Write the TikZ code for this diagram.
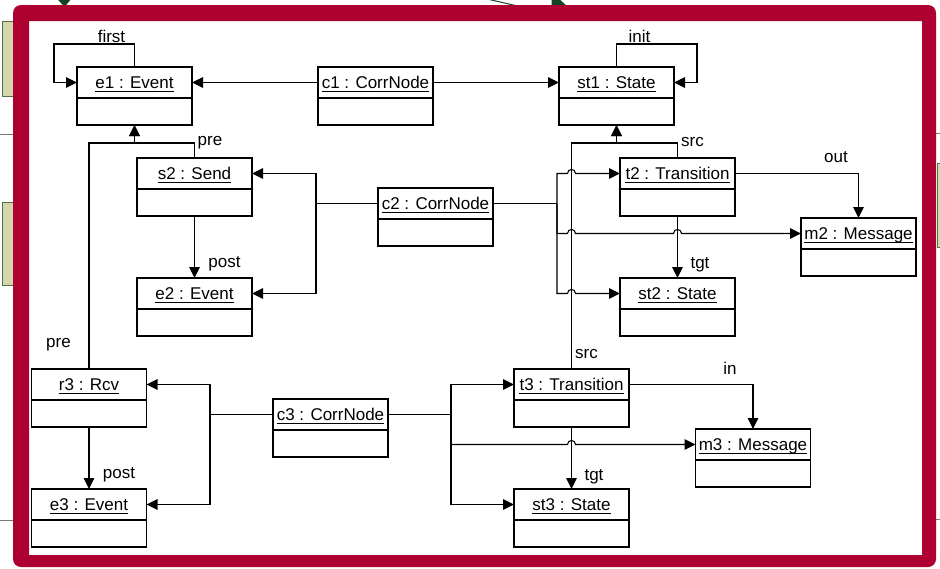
\documentclass[tikz,border=0pt]{standalone}
\usepackage{fontspec}
\setmainfont{Liberation Sans}
\usetikzlibrary{arrows.meta}
\definecolor{framered}{RGB}{175,0,50}
\definecolor{bggreen}{RGB}{214,214,172}
\definecolor{bgline}{RGB}{80,115,70}
\definecolor{darkgreen}{RGB}{22,66,38}
\definecolor{bggrey}{RGB}{120,120,120}
\newcommand\objnode[3]{%
  \node[obj] (#1) at (#2) {};
  \coordinate (#1-h) at ([yshift=-15.5pt]#1.north);
  \node[hdr] (#1-t) at ([yshift=-21.3pt]#1.north) {#3};
  \draw[line width=1pt] ([yshift=-3pt]#1-t.base west) -- ([yshift=-3pt]#1-t.base east);
  \draw[line width=1.4pt] ([yshift=-31pt]#1.north west) -- ([yshift=-31pt]#1.north east);
}
\begin{document}
\begin{tikzpicture}[x=1pt,y=-1pt,
  obj/.style={draw,line width=1.4pt,minimum width=115pt,minimum height=58pt,inner sep=0pt,outer sep=0pt},
  hdr/.style={font=\fontsize{17}{20}\selectfont,inner sep=0pt,anchor=base},
  lbl/.style={font=\fontsize{17}{20}\selectfont,inner sep=0pt},
  ln/.style={line width=1.1pt},
  arr/.style={line width=1.1pt,-{Triangle[length=11pt,width=10.5pt]}}]
\useasboundingbox (0,0) rectangle (940,568);
\clip (0,0) rectangle (940,568);
\fill[white] (0,0) rectangle (940,568);
% background fragments
\draw[fill=bggreen,draw=bgline,line width=1pt] (2.7,21) rectangle (25,96);
\draw[fill=bggreen,draw=bgline,line width=1pt] (2.7,202) rectangle (25,285);
\draw[fill=bggreen,draw=bgline,line width=1pt] (937,163) rectangle (950,247);
\draw[bggrey,line width=1pt] (-2,134) -- (20,134);
\draw[bggrey,line width=1pt] (-2,520) -- (20,520);
\draw[bggrey,line width=1pt] (930,133) -- (945,133);
\draw[bggrey,line width=1pt] (930,519) -- (945,519);
\fill[darkgreen] (56.5,-2) -- (72,-2) -- (64.5,7) -- cycle;
\draw[darkgreen,line width=1pt] (487,-1) -- (522,7);
\fill[darkgreen] (551.5,-2) -- (558,-2) -- (568,7) -- (551.5,7) -- cycle;
% frame
\fill[framered,even odd rule] [rounded corners=8pt] (13,5) rectangle (936,567) [sharp corners] (29,21) rectangle (922,555);
% objects
\objnode{e1}{134.5,96}{e1 : Event}
\objnode{c1}{375.5,96}{c1 : CorrNode}
\objnode{st1}{616.5,96}{st1 : State}
\objnode{s2}{194.5,187}{s2 : Send}
\objnode{e2}{194.5,307}{e2 : Event}
\objnode{c2}{435.5,217}{c2 : CorrNode}
\objnode{t2}{677.5,187}{t2 : Transition}
\objnode{st2}{677.5,307}{st2 : State}
\objnode{m2}{858.5,247}{m2 : Message}
\objnode{r3}{89,398}{r3 : Rcv}
\objnode{e3}{89,518}{e3 : Event}
\objnode{c3}{330.5,428}{c3 : CorrNode}
\objnode{t3}{571.5,398}{t3 : Transition}
\objnode{st3}{571.5,518}{st3 : State}
\objnode{m3}{753,458}{m3 : Message}
% row 1
\draw[arr] (e1.north) -- (134.5,44) -- (54,44) -- (54,82.5) -- (e1.west |- e1-h);
\draw[arr] (c1.west |- c1-h) -- (e1.east |- e1-h);
\draw[arr] (c1.east |- c1-h) -- (st1.west |- st1-h);
\draw[arr] (st1.north) -- (616.5,44) -- (697,44) -- (697,82.5) -- (st1.east |- st1-h);
\node[lbl] (lfirst) at (111.5,36.5) {first};
\node[lbl] (linit) at (639.5,36.5) {init};
% pre links to e1
\draw[arr] (s2.north) -- (194.5,143) -- (134.5,143) -- (e1.south);
\draw[arr] (r3.north) -- (89,143) -- (134.5,143) -- (e1.south);
\node[lbl] (lpre1) at (210,143) {pre};
\node[lbl] (lpre2) at (58.5,344.5) {pre};
% src links to st1
\draw[arr] (t2.north) -- (677.5,143) -- (616.5,143) -- (st1.south);
\draw[arr] (t3.north) -- (571.5,143) -- (616.5,143) -- (st1.south);
\node[lbl] (lsrc1) at (692.5,142.5) {src};
\node[lbl] (lsrc2) at (586.5,354) {src};
% row 2
\draw[arr] (s2.south) -- (e2.north);
\node[lbl] (lpost1) at (224.5,264) {post};
\coordinate (c2L) at (316,203.5);
\coordinate (c2R) at (557,203.5);
\draw[ln] (c2.west |- c2-h) -- (c2L);
\draw[arr] (c2L) |- (s2.east |- s2-h);
\draw[arr] (c2L) |- (e2.east |- e2-h);
\draw[ln] (c2.east |- c2-h) -- (c2R);
\draw[arr] (c2R) |- (567.5,173.5) .. controls (567.5,168.2) and (575.5,168.2) .. (575.5,173.5) -- (t2.west |- t2-h);
\draw[arr] (c2R) |- (567.5,233.5) .. controls (567.5,228.2) and (575.5,228.2) .. (575.5,233.5) -- (673.5,233.5) .. controls (673.5,228.2) and (681.5,228.2) .. (681.5,233.5) -- (m2.west |- m2-h);
\draw[arr] (c2R) |- (567.5,293.5) .. controls (567.5,288.2) and (575.5,288.2) .. (575.5,293.5) -- (st2.west |- st2-h);
\draw[arr] (t2.east |- t2-h) -| (m2.north);
\node[lbl] (lout) at (836,157.5) {out};
\draw[arr] (t2.south) -- (st2.north);
\node[lbl] (ltgt1) at (700,265) {tgt};
% row 3
\draw[arr] (r3.south) -- (e3.north);
\node[lbl] (lpost2) at (119,475) {post};
\coordinate (c3L) at (210,414.5);
\coordinate (c3R) at (451,414.5);
\draw[ln] (c3.west |- c3-h) -- (c3L);
\draw[arr] (c3L) |- (r3.east |- r3-h);
\draw[arr] (c3L) |- (e3.east |- e3-h);
\draw[ln] (c3.east |- c3-h) -- (c3R);
\draw[arr] (c3R) |- (t3.west |- t3-h);
\draw[arr] (c3R) |- (567.5,444.5) .. controls (567.5,439.2) and (575.5,439.2) .. (575.5,444.5) -- (m3.west |- m3-h);
\draw[arr] (c3R) |- (st3.west |- st3-h);
\draw[arr] (t3.east |- t3-h) -| (m3.north);
\node[lbl] (lin) at (730,368) {in};
\draw[arr] (t3.south) -- (st3.north);
\node[lbl] (ltgt2) at (594,477) {tgt};
\end{tikzpicture}
\end{document}
